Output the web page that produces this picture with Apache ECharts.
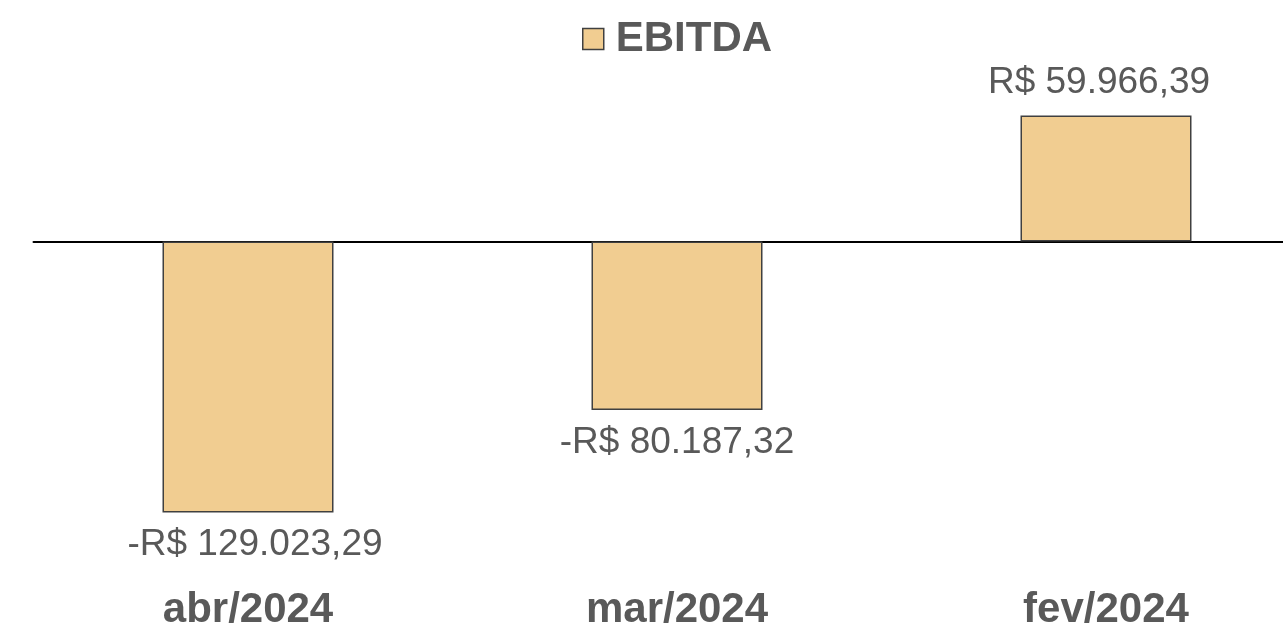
<!DOCTYPE html>
<html>
<head>
<meta charset="utf-8">
<script src="https://cdn.jsdelivr.net/npm/echarts@6/dist/echarts.min.js"></script>
<style>
html,body{margin:0;padding:0;background:#fff;}
#chart{width:1283px;height:623px;}
</style>
</head>
<body>
<div id="chart"></div>
<script>
const categories = ['abr/2024', 'mar/2024', 'fev/2024'];
const seriesName = 'EBITDA';
const ebitdaValues = [-129023.29, -80187.32, 59966.39];

function fmtBRL(v) {
  const neg = v < 0;
  const abs = Math.abs(v);
  const parts = abs.toFixed(2).split('.');
  const intPart = parts[0].replace(/\B(?=(\d{3})+(?!\d))/g, '.');
  return (neg ? '-' : '') + 'R$ ' + intPart + ',' + parts[1];
}

const FONT = 'Liberation Sans, Arial, sans-serif';
const labelShift = [7, 0, -7];
const chart = echarts.init(document.getElementById('chart'), null, {renderer: 'canvas'});
chart.setOption({
  animation: false,
  backgroundColor: '#ffffff',
  textStyle: {fontFamily: FONT},
  legend: {
    data: [seriesName],
    top: 13,
    left: 577,
    icon: 'rect',
    itemWidth: 21,
    itemHeight: 21,
    itemGap: 10,
    textStyle: {fontSize: 42, fontWeight: 'bold', color: '#595959', fontFamily: FONT, padding: [0, 0, 0, 7]},
    itemStyle: {borderColor: '#404040', borderWidth: 1.5}
  },
  grid: {left: 33.5, right: -37.5, top: 73.5, bottom: 45.5, containLabel: false, outerBoundsMode: 'none'},
  xAxis: [{
    type: 'category',
    data: categories,
    position: 'bottom',
    axisLine: {show: false, onZero: false},
    axisTick: {show: false},
    axisLabel: {fontSize: 42, fontWeight: 'bold', color: '#595959', margin: 12, fontFamily: FONT}
  }, {
    type: 'category',
    data: categories,
    position: 'bottom',
    axisLine: {show: true, onZero: true, lineStyle: {color: '#000000', width: 2}},
    axisTick: {show: false},
    axisLabel: {show: false}
  }],
  yAxis: {
    type: 'value',
    min: -160000,
    max: 80000,
    show: false,
    splitLine: {show: false}
  },
  series: [{
    name: seriesName,
    type: 'bar',
    xAxisIndex: 0,
    data: ebitdaValues.map((v, i) => ({value: v, label: {offset: [labelShift[i], 0]}})),
    barWidth: 171,
    itemStyle: {color: '#F1CD91', borderColor: '#404040', borderWidth: 1.5},
    label: {
      show: true,
      position: 'outside',
      distance: 14,
      fontSize: 37,
      color: '#595959',
      fontFamily: FONT,
      formatter: p => fmtBRL(p.value)
    }
  }]
});
</script>
</body>
</html>
